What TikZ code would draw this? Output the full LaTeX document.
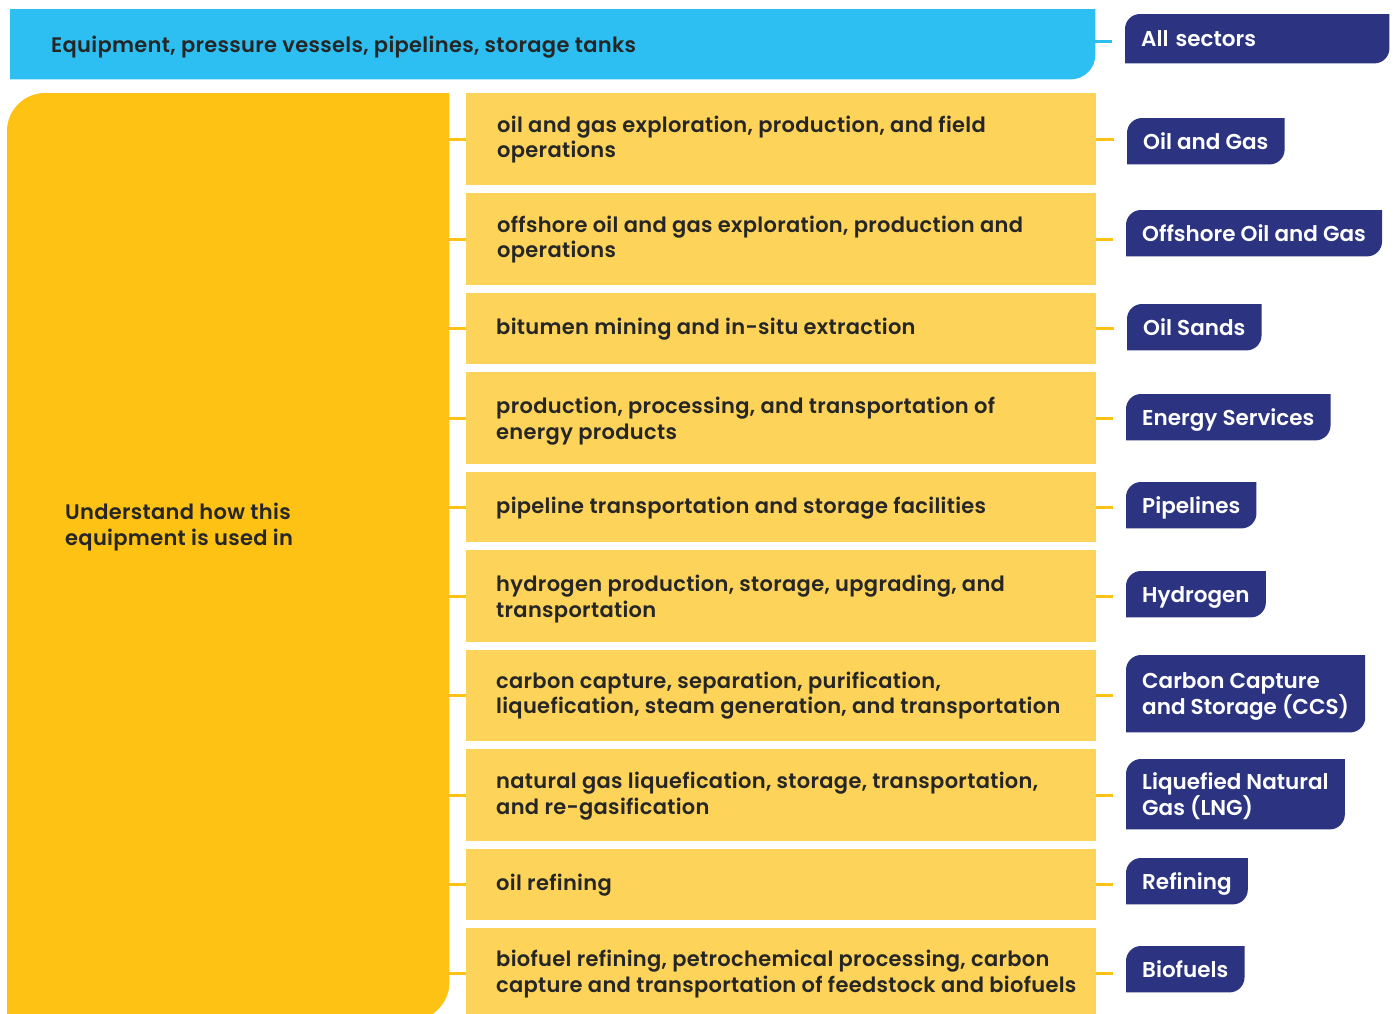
\documentclass[tikz,border=0pt]{standalone}
\usepackage{fontspec}
\setmainfont{Poppins}[BoldFont={Poppins SemiBold}]
\usetikzlibrary{calc,backgrounds}
\definecolor{skyb}{HTML}{2DBFF1}
\definecolor{goldy}{HTML}{FDC213}
\definecolor{lighty}{HTML}{FDD35A}
\definecolor{navyb}{HTML}{2C3481}
\definecolor{inkd}{HTML}{262626}
% fill a node's area with rounded top-left and bottom-right corners
\newcommand\cornerfill[3]{%
  \path let \p1=(#1.north west), \p2=(#1.south east) in
    [fill=#2] (\x1,\y2) -- ({\x1},{\y1-#3}) .. controls ({\x1},{\y1-0.45*#3}) and ({\x1+0.45*#3},{\y1}) .. ({\x1+#3},{\y1})
    -- (\x2,\y1) -- ({\x2},{\y2+#3}) .. controls ({\x2},{\y2+0.45*#3}) and ({\x2-0.45*#3},{\y2}) .. ({\x2-#3},{\y2}) -- cycle;}
\newcommand\topstrut{\rule{0pt}{21.5pt}}
\begin{document}
\begin{tikzpicture}[x=1pt,y=-1pt,
  rowbox/.style={fill=lighty, anchor=north west, inner sep=0pt, minimum width=630pt},
  rowtext/.style={anchor=west, inner sep=0pt, align=left, text=inkd, font=\bfseries\fontsize{21}{25.5}\selectfont\addfontfeatures{LetterSpace=1.5}},
  tagbox/.style={text=white, anchor=north west, inner sep=0pt, inner xsep=16pt, align=left, font=\bfseries\fontsize{21.5}{26}\selectfont},
  oneline/.style={tagbox, minimum height=46pt, text height=21.5pt, text depth=5.5pt},
  twoline/.style={tagbox},
  link/.style={line width=3pt, goldy},
  bluelink/.style={line width=3pt, skyb}]
\clip (0,0) rectangle (1395,1013);

% top bar
\node[anchor=north west, inner sep=0pt, minimum width=1085pt, minimum height=70pt] (bar) at (10,9) {};
\node[rowtext] (bartext) at (51,47) {Equipment, pressure vessels, pipelines, storage tanks};

% big yellow
\node[anchor=north west, inner sep=0pt, minimum width=442pt, minimum height=927pt] (big) at (7,93) {};
\node[rowtext] (bigtext) at (65,527) {Understand how this\\equipment is used in};

% rows
\node[rowbox, minimum height=92pt] (r1) at (466,93) {};
\node[rowbox, minimum height=92pt] (r2) at (466,193) {};
\node[rowbox, minimum height=71pt] (r3) at (466,293) {};
\node[rowbox, minimum height=92pt] (r4) at (466,372) {};
\node[rowbox, minimum height=70pt] (r5) at (466,472) {};
\node[rowbox, minimum height=92pt] (r6) at (466,550) {};
\node[rowbox, minimum height=91pt] (r7) at (466,650) {};
\node[rowbox, minimum height=92pt] (r8) at (466,749) {};
\node[rowbox, minimum height=71pt] (r9) at (466,849) {};
\node[rowbox, minimum height=90pt] (r10) at (466,928) {};

\node[rowtext] (x1) at ([xshift=31pt,yshift=-0.5pt]r1.west) {oil and gas exploration, production, and field\\operations};
\node[rowtext] (x2) at ([xshift=31pt,yshift=-0.5pt]r2.west) {offshore oil and gas exploration, production and\\operations};
\node[rowtext] (x3) at ([xshift=30pt,yshift=0pt]r3.west) {bitumen mining and in-situ extraction};
\node[rowtext] (x4) at ([xshift=30pt,yshift=-3pt]r4.west) {production, processing, and transportation of\\energy products};
\node[rowtext] (x5) at ([xshift=30pt,yshift=-1pt]r5.west) {pipeline transportation and storage facilities};
\node[rowtext] (x6) at ([xshift=30pt,yshift=-3pt]r6.west) {hydrogen production, storage, upgrading, and\\transportation};
\node[rowtext] (x7) at ([xshift=30pt,yshift=0pt]r7.west) {carbon capture, separation, purification,\\liquefication, steam generation, and transportation};
\node[rowtext] (x8) at ([xshift=30pt,yshift=-1pt]r8.west) {natural gas liquefication, storage, transportation,\\and re-gasification};
\node[rowtext] (x9) at ([xshift=30pt,yshift=0pt]r9.west) {oil refining};
\node[rowtext] (x10) at ([xshift=30pt,yshift=-1pt]r10.west) {biofuel refining, petrochemical processing, carbon\\capture and transportation of feedstock and biofuels};

% tags
\node[oneline, minimum height=49pt, text width=232pt] (t0) at (1125,14) {All sectors};
\node[oneline] (t1) at (1127,118) {Oil and Gas};
\node[oneline] (t2) at (1126,210) {Offshore Oil and Gas};
\node[oneline] (t3) at (1127,304) {Oil Sands};
\node[oneline] (t4) at (1126,394) {Energy Services};
\node[oneline] (t5) at (1126,482) {Pipelines};
\node[oneline] (t6) at (1126,571) {Hydrogen};
\node[twoline, minimum height=77pt] (t7) at (1126,655) {\topstrut Carbon Capture\\and Storage (CCS)};
\node[twoline, minimum height=70pt] (t8) at (1126,759) {\topstrut Liquefied Natural\\Gas (LNG)};
\node[oneline] (t9) at (1126,858) {Refining};
\node[oneline] (t10) at (1126,946) {Biofuels};

\begin{scope}[on background layer]
  \fill[white] (0,0) rectangle (1395,1013);
  % bar: only bottom-right rounded
  \path let \p1=(bar.north west), \p2=(bar.south east) in
    [fill=skyb] (\x1,\y1) -- (\x2,\y1) -- ({\x2},{\y2+25pt}) .. controls ({\x2},{\y2+11pt}) and ({\x2-11pt},{\y2}) .. ({\x2-25pt},{\y2}) -- (\x1,\y2) -- cycle;
  \cornerfill{big}{goldy}{38pt}
  \foreach \t in {t0,t1,t2,t3,t4,t5,t6,t7,t8,t9,t10}{\cornerfill{\t}{navyb}{15pt}}
\end{scope}

% connectors
\draw[bluelink, shorten >=13pt] ([yshift=3pt]bar.east) -- ([yshift=3pt]bar.east -| t0.west);
\foreach \r/\t in {r1/t1,r2/t2,r3/t3,r4/t4,r5/t5,r6/t6,r7/t7,r8/t8,r9/t9,r10/t10}{
  \draw[link] (\r.west -| big.east) -- (\r.west);
  \draw[link, shorten >=13pt] (\r.east) -- (\r.east -| \t.west);
}
\end{tikzpicture}
\end{document}
